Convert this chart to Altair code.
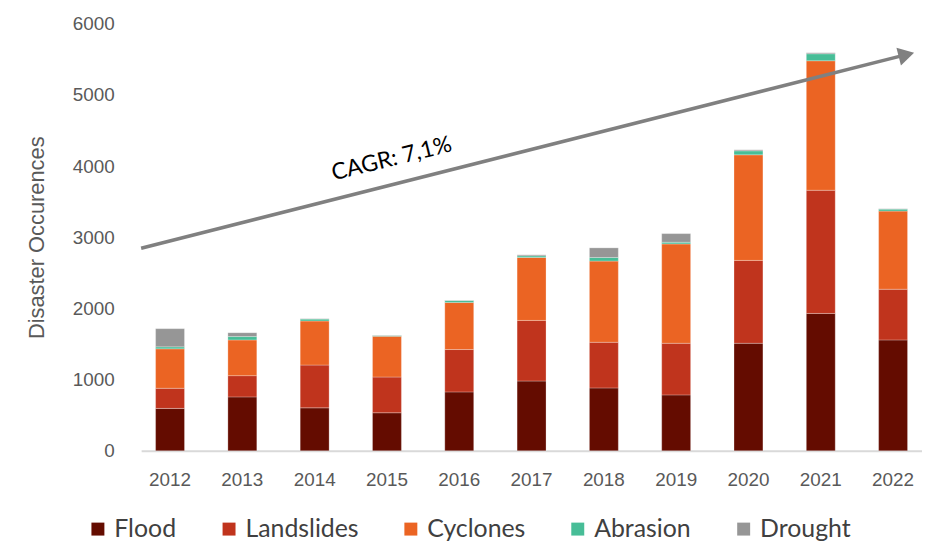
import altair as alt
import pandas as pd

years = ["2012", "2013", "2014", "2015", "2016", "2017", "2018", "2019", "2020", "2021", "2022"]
series = ["Flood", "Landslides", "Cyclones", "Abrasion", "Drought"]
flood = [596, 758, 604, 535, 828, 981, 884, 786, 1511, 1930, 1558]
landslides = [283, 298, 601, 502, 595, 851, 641, 725, 1164, 1730, 712]
cyclones = [554, 502, 619, 572, 660, 884, 1140, 1395, 1483, 1819, 1097]
abrasion = [28, 47, 27, 10, 28, 23, 51, 24, 56, 98, 28]
drought = [255, 55, 5, 5, 5, 14, 135, 121, 14, 14, 5]
colors = ["#640C00", "#C0341D", "#EB6423", "#47BD97", "#969696"]

# CAGR trend arrow (in data units: x position along the year axis 0..11, y in occurrences)
arrow_x = [0.0, 10.78]
arrow_y = [2846, 5565]
label_x = [3.53]
label_y = [4100]
label_text = ["CAGR: 7,1%"]

rows = []
for s_i, (name, vals) in enumerate(zip(series, [flood, landslides, cyclones, abrasion, drought])):
    for y, v in zip(years, vals):
        rows.append({"Year": y, "Type": name, "Value": v, "ord": s_i})
df = pd.DataFrame(rows)

W, H = 786, 430
FONT = "Liberation Sans"
LFONT = "Lato"
GRAY = "#595959"

bars = alt.Chart(df).mark_bar(stroke="white", strokeWidth=0.6, strokeOpacity=0.45).encode(
    x=alt.X("Year:N", sort=years, title=None,
            scale=alt.Scale(paddingInner=0.6, paddingOuter=0.2),
            axis=alt.Axis(labelAngle=0, labelFont=FONT, labelFontSize=19, labelColor=GRAY,
                          ticks=False, domainColor="#D9D9D9", domainWidth=2, labelPadding=20)),
    y=alt.Y("Value:Q", stack="zero", title="Disaster Occurences",
            scale=alt.Scale(domain=[0, 6000], nice=False),
            axis=alt.Axis(values=[0, 1000, 2000, 3000, 4000, 5000, 6000], format="d", grid=False,
                          domain=False, ticks=False, labelFont=FONT, labelFontSize=19,
                          labelColor=GRAY, labelPadding=27, titleFont=FONT, titleFontSize=22,
                          titleColor=GRAY, titleFontWeight="normal", titlePadding=24)),
    color=alt.Color("Type:N", sort=series,
                    scale=alt.Scale(domain=series, range=colors),
                    legend=alt.Legend(orient="none", legendX=-56, legendY=496,
                                      title=None, direction="horizontal",
                                      symbolType="square", symbolSize=170, symbolStrokeWidth=0,
                                      labelFont=LFONT, labelFontSize=25,
                                      labelColor="#404040", columnPadding=40,
                                      labelLimit=300)),
    order=alt.Order("ord:Q", sort="ascending"),
)

adf = pd.DataFrame({"x": arrow_x, "y": arrow_y})
xq = alt.X("x:Q", scale=alt.Scale(domain=[0, 11], nice=False, zero=False), axis=None)
yq = alt.Y("y:Q", scale=alt.Scale(domain=[0, 6000], nice=False))

line = alt.Chart(adf).mark_line(color="#808080", strokeWidth=3.5).encode(x=xq, y=yq)
head = alt.Chart(adf.iloc[[1]]).mark_point(shape="triangle-right", filled=True, size=340,
                                           color="#808080", opacity=1, angle=345.8).encode(x=xq, y=yq)
ldf = pd.DataFrame({"x": label_x, "y": label_y, "t": label_text})
text = alt.Chart(ldf).mark_text(angle=346, fontSize=23, font=LFONT,
                                color="black").encode(x=xq, y=yq, text="t:N")

chart = alt.layer(bars, line, head, text).resolve_scale(x="independent").properties(
    width=W, height=H, padding={"left": 17, "top": 5, "right": 0, "bottom": 0}
).configure_view(stroke=None)

chart.save("out.html", embed_options={"renderer": "svg", "actions": False})
